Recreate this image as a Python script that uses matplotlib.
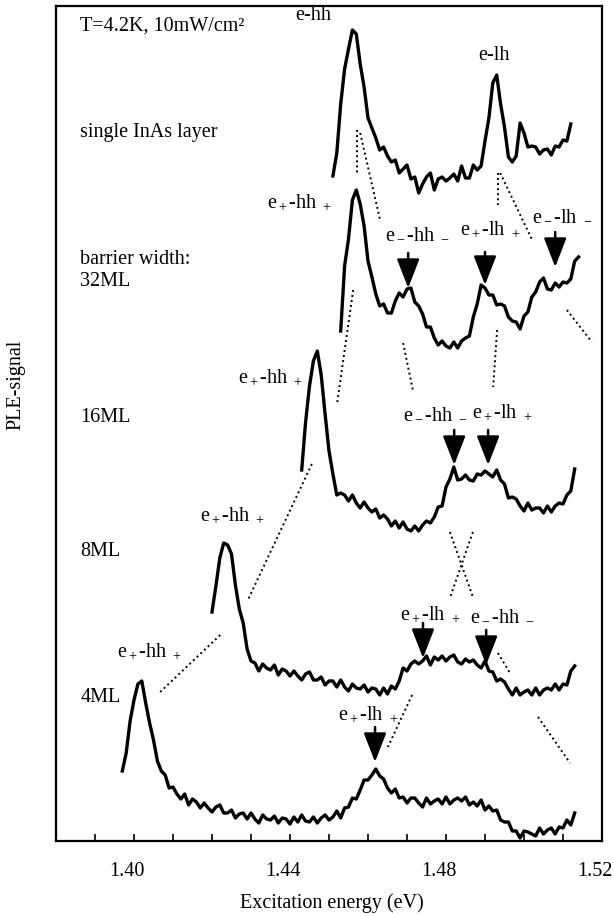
import numpy as np
import matplotlib
matplotlib.use("Agg")
import matplotlib.pyplot as plt
from matplotlib.transforms import ScaledTranslation

plt.rcParams['font.family'] = ['Liberation Serif', 'DejaVu Serif']
plt.rcParams['mathtext.fontset'] = 'custom'
plt.rcParams['mathtext.rm'] = 'Liberation Serif'
plt.rcParams['mathtext.it'] = 'Liberation Serif:italic'
plt.rcParams['mathtext.bf'] = 'Liberation Serif:bold'

# ---------------- data (energy in eV, PLE signal with vertical offsets) ----------------
E_STEP = 0.001

single_start = 1.451
single_signal = [665, 688, 737, 772, 792, 811, 807, 777, 754, 723, 713, 703, 691, 694, 685, 679,
                 681, 668, 672, 676, 662, 664, 648, 657, 664, 668, 651, 662, 664, 660, 663, 667,
                 660, 675, 663, 663, 676, 671, 675, 700, 723, 758, 766, 737, 714, 684, 679, 685,
                 718, 708, 694, 695, 694, 687, 691, 692, 686, 695, 694, 701, 700, 717]

ml32_start = 1.453
ml32_signal = [510, 575, 602, 641, 651, 637, 615, 580, 564, 547, 535, 537, 528, 528, 540, 548,
               544, 552, 553, 539, 535, 527, 514, 514, 503, 496, 500, 495, 493, 499, 493, 500,
               503, 505, 524, 537, 556, 553, 546, 546, 536, 537, 535, 524, 520, 519, 512, 525,
               529, 544, 549, 559, 563, 552, 551, 558, 554, 559, 558, 562, 580, 584]

ml16_start = 1.443
ml16_signal = [371, 419, 455, 480, 490, 466, 427, 390, 367, 346, 348, 346, 340, 346, 338, 333,
               339, 333, 329, 332, 323, 326, 322, 315, 320, 313, 319, 312, 310, 315, 310, 316,
               320, 318, 324, 334, 335, 354, 362, 374, 361, 362, 366, 361, 360, 367, 366, 370,
               367, 364, 371, 361, 357, 343, 344, 342, 335, 330, 338, 331, 333, 333, 328, 335,
               329, 335, 338, 337, 346, 350, 372]

ml8_start = 1.420
ml8_signal = [229, 255, 283, 298, 296, 287, 256, 232, 218, 192, 180, 178, 170, 177, 173, 171,
              176, 166, 172, 170, 165, 170, 165, 161, 167, 169, 161, 161, 164, 156, 160, 160,
              154, 161, 154, 150, 157, 153, 152, 156, 149, 153, 152, 146, 153, 147, 155, 152,
              160, 173, 170, 177, 180, 177, 180, 185, 176, 184, 181, 185, 180, 184, 186, 179,
              177, 182, 179, 181, 176, 173, 180, 170, 169, 160, 162, 159, 152, 146, 153, 146,
              149, 151, 146, 153, 146, 151, 153, 151, 157, 151, 157, 156, 170, 175]

ml4_start = 1.397
ml4_signal = [70, 88, 120, 141, 157, 160, 138, 118, 101, 80, 70, 66, 53, 54, 47, 42, 47, 36,
              42, 39, 33, 38, 33, 29, 34, 36, 28, 28, 31, 23, 27, 28, 22, 28, 22, 18, 26, 22,
              21, 25, 18, 23, 22, 17, 24, 19, 26, 20, 19, 24, 18, 23, 26, 21, 24, 30, 23, 33,
              34, 43, 42, 51, 61, 61, 66, 72, 65, 62, 53, 48, 52, 43, 44, 38, 43, 43, 38, 34,
              43, 37, 40, 42, 37, 44, 37, 41, 43, 40, 44, 36, 39, 35, 41, 31, 35, 30, 31, 21,
              19, 19, 10, 10, 3, 10, 9, 7, 5, 13, 7, 11, 13, 7, 14, 13, 21, 16, 28]

# arrows marking transitions
arrow_E = [1.4703, 1.4900, 1.5080, 1.4821, 1.4908, 1.4741, 1.4903, 1.4618]
arrow_tail = [588, 589, 609, 411, 411, 218, 211, 114]
arrow_tip = [553, 556, 574, 376, 376, 183, 176, 79]

# dotted guide lines
dot_E0 = [1.4572, 1.4580, 1.4933, 1.4939, 1.4562, 1.4690, 1.4931, 1.5110, 1.4456, 1.4221,
          1.4810, 1.4869, 1.4933, 1.4713, 1.5036]
dot_h0 = [711, 708, 668, 668, 551, 498, 511, 531, 377, 206, 309, 309, 188, 146, 124]
dot_E1 = [1.4572, 1.4631, 1.4933, 1.5021, 1.4521, 1.4715, 1.4921, 1.5174, 1.4292, 1.4067,
          1.4869, 1.4810, 1.4964, 1.4651, 1.5118]
dot_h1 = [668, 621, 636, 601, 438, 451, 454, 499, 241, 149, 244, 243, 168, 94, 78]

# text labels
P = r"e$_+$-hh $_+$"
M = r"e$_-$-hh $_-$"
LP = r"e$_+$-lh $_+$"
LM = r"e$_-$-lh $_-$"
label_text = ["T=4.2K, 10mW/cm²", "e-hh", "e-lh", "single InAs layer", "barrier width:",
              "32ML", "16ML", "8ML", "4ML",
              P, M, LP, LM, P, M, LP, P, P, LP, M, LP]
label_E = [1.3862, 1.4413, 1.4882, 1.3862, 1.3862, 1.3862, 1.3862, 1.3862, 1.3862,
           1.4341, 1.4644, 1.4836, 1.5021, 1.4267, 1.4690, 1.4867, 1.4169, 1.3956,
           1.4682, 1.4862, 1.4523]
label_h = [815, 825, 785, 708, 581, 560, 423, 289, 144,
           638, 608, 611, 626, 463, 428, 428, 325, 189, 226, 226, 126]

xticks_major = [1.40, 1.44, 1.48, 1.52]

# ---------------- figure ----------------
W, H = 613, 916
FS = 14.5
fig = plt.figure(figsize=(W / 100, H / 100), dpi=100)
ax = fig.add_axes([56 / W, 1 - 841 / H, 546 / W, 835 / H])

for start, sig in [(single_start, single_signal), (ml32_start, ml32_signal),
                   (ml16_start, ml16_signal), (ml8_start, ml8_signal), (ml4_start, ml4_signal)]:
    x = start + E_STEP * np.arange(len(sig))
    ax.plot(x, sig, color='black', lw=2.4, solid_joinstyle='round')

for e0, h0, e1, h1 in zip(dot_E0, dot_h0, dot_E1, dot_h1):
    ax.plot([e0, e1], [h0, h1], color='black', lw=1.4, linestyle=(0, (1, 1.6)))

for e, t0, t1 in zip(arrow_E, arrow_tail, arrow_tip):
    ax.annotate('', xy=(e, t1), xytext=(e, t0),
                arrowprops=dict(arrowstyle='-|>,head_length=0.9,head_width=0.35',
                                color='black', lw=1.8, mutation_scale=20, shrinkA=0, shrinkB=0))

for t, e, h in zip(label_text, label_E, label_h):
    ax.text(e, h, t, fontsize=FS, ha='left', va='center', color='black')

ax.set_xlim(1.38, 1.52)
ax.set_ylim(0, 835)
ax.set_xticks(xticks_major)
ax.set_xticklabels([f"{v:.2f}" for v in xticks_major])
ax.set_xticks(np.arange(1.39, 1.521, 0.01), minor=True)
ax.tick_params(axis='x', which='both', direction='in', length=5, width=1.2, pad=15,
               labelsize=FS, top=False)
ax.set_yticks([])
for s in ax.spines.values():
    s.set_linewidth(1.6)

shift = ScaledTranslation(-7 / 100, 0, fig.dpi_scale_trans)
for lab in ax.get_xticklabels():
    lab.set_transform(lab.get_transform() + shift)

fig.text(332 / W, 1 - 903 / H, "Excitation energy (eV)", fontsize=FS, ha='center', va='center')
fig.text(16 / W, 1 - 385 / H, "PLE-signal", fontsize=FS, ha='center', va='center', rotation=90)

fig.savefig("out.png", dpi=100)
